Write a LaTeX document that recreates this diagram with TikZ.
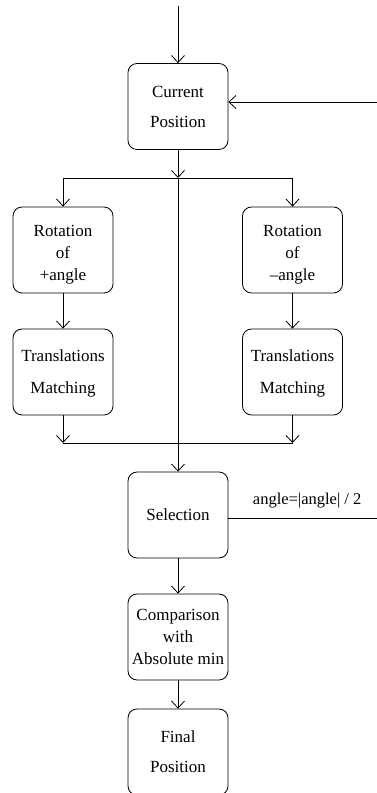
\documentclass[tikz,border=0pt]{standalone}
\usepackage{fontspec}
\setmainfont{Liberation Serif}
\usetikzlibrary{arrows.meta}
\begin{document}
\begin{tikzpicture}[x=1pt,y=1pt,
  box/.style={draw, line width=0.8pt, rounded corners=9pt, minimum width=100pt, minimum height=86pt, inner sep=0pt, align=center, font=\fontsize{17}{22}\selectfont},
  conn/.style={line width=0.8pt},
  arr/.style={conn, -{Straight Barb[length=7pt,width=13pt]}},
  lbl/.style={font=\fontsize{16.5}{20}\selectfont, inner sep=0pt}]
\clip (0,0) rectangle (377,793);
\useasboundingbox (0,0) rectangle (377,793);
\node[box] (cur) at (178,686.5) {Current\\[8pt]Position};
\node[box] (rotL) at (63,543) {\rule{0pt}{20pt}Rotation\\of\\+angle};
\node[box] (rotR) at (292.5,543) {\rule{0pt}{20pt}Rotation\\of\\\textendash angle};
\node[box] (trL) at (63,421) {\rule{0pt}{15pt}Translations\\[10pt]Matching};
\node[box] (trR) at (292.5,421) {\rule{0pt}{15pt}Translations\\[10pt]Matching};
\node[box] (sel) at (178,278) {Selection};
\node[box] (cmp) at (178,156) {Comparison\\with\\Absolute min};
\node[box] (fin) at (178,41) {Final\\[8pt]Position};
\coordinate (top) at (178,787);
\coordinate (rin) at (377,691);
\coordinate (j1) at (178,615);
\coordinate (j2L) at (63,350);
\coordinate (j2R) at (292.5,350);
\coordinate (rout) at (377,275);
\draw[arr] (top) -- (cur.north);
\draw[arr] (rin) -- (cur.east |- rin);
\draw[arr] (cur.south) -- (j1);
\draw[arr] (j1) -- (sel.north);
\draw[arr] (j1) -| (rotL.north);
\draw[arr] (j1) -| (rotR.north);
\draw[arr] (rotL.south) -- (trL.north);
\draw[arr] (rotR.south) -- (trR.north);
\draw[arr] (trL.south) -- (j2L);
\draw[arr] (trR.south) -- (j2R);
\draw[conn] (j2L) -- (j2R);
\draw[conn] (sel.east |- rout) -- (rout) node[lbl, pos=0.53, above=10pt] (lab) {angle=|angle| / 2};
\draw[arr] (sel.south) -- (cmp.north);
\draw[arr] (cmp.south) -- (fin.north);
\end{tikzpicture}
\end{document}
